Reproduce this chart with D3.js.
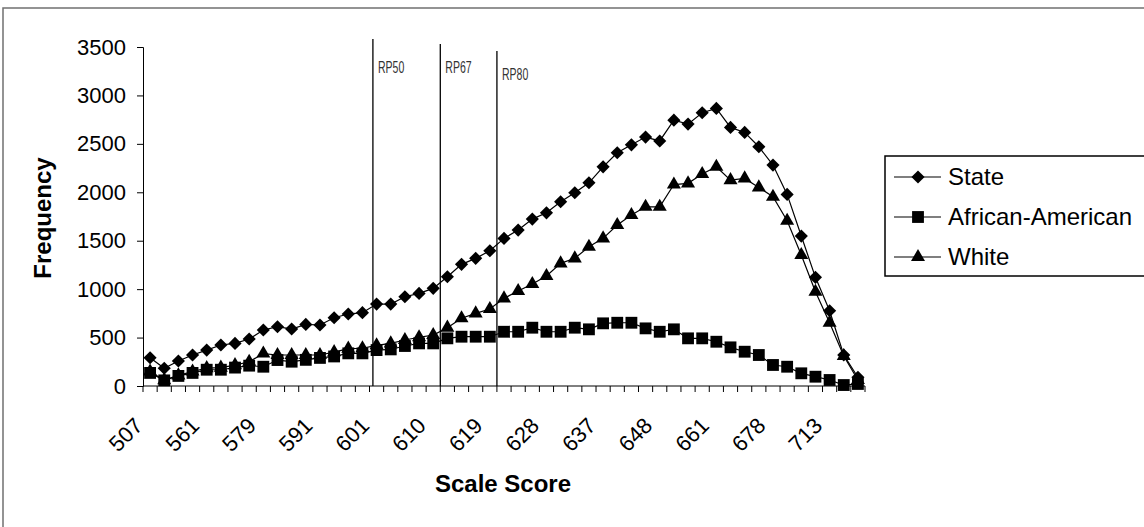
<!DOCTYPE html>
<html>
<head>
<meta charset="utf-8">
<script src="https://cdn.jsdelivr.net/npm/d3@7"></script>
<style>
  body { margin: 0; background: #fff; }
  svg { display: block; font-family: "Liberation Sans", Arial, sans-serif; }
</style>
</head>
<body>
<div id="chart"></div>
<script>
// 51 score categories, only every 4th is labelled on the axis
const tickLabels = ["507", "561", "579", "591", "601", "610", "619", "628", "637", "648", "661", "678", "713"];
const labelEvery = 4;
const nCats = 51;

const state = [292, 183, 258, 320, 371, 423, 440, 485, 578, 612, 588, 636, 630, 705, 743, 757, 846, 846,
  922, 956, 1008, 1128, 1256, 1318, 1396, 1524, 1610, 1723, 1788, 1902, 1995, 2098, 2263, 2408, 2490, 2570,
  2530, 2745, 2704, 2821, 2866, 2670, 2618, 2470, 2281, 1978, 1548, 1122, 777, 320, 90];

const africanAmerican = [135, 58, 104, 135, 168, 168, 190, 210, 199, 268, 251, 270, 290, 305, 337, 337, 371, 378,
  413, 440, 440, 492, 509, 509, 509, 560, 560, 602, 560, 560, 602, 585, 647, 653, 653, 595, 560, 585,
  492, 492, 457, 399, 354, 320, 217, 199, 131, 96, 62, 10, 21];

const white = [150, 60, 110, 150, 185, 190, 215, 250, 335, 320, 320, 320, 320, 350, 385, 390, 420, 440,
  475, 503, 526, 602, 699, 750, 795, 905, 980, 1053, 1135, 1266, 1318, 1438, 1524, 1662, 1765, 1850, 1850,
  2080, 2092, 2188, 2263, 2126, 2143, 2050, 1954, 1706, 1352, 973, 653, 310, 62];

const seriesNames = ["State", "African-American", "White"];
const seriesData = [state, africanAmerican, white];
const seriesSymbols = [d3.symbolDiamond2, d3.symbolSquare, d3.symbolTriangle];

// reference points (drawn lines), position in category units
const refNames = ["RP50", "RP67", "RP80"];
const refPos = [16.24, 21, 25];

const yTicks = [0, 500, 1000, 1500, 2000, 2500, 3000, 3500];

const W = 1144, H = 527;
const plot = { left: 143, right: 865, top: 47, bottom: 386 };

const svg = d3.select("#chart").append("svg")
  .attr("width", W)
  .attr("height", H);

// outer chart frame
svg.append("rect")
  .attr("x", 3).attr("y", 8)
  .attr("width", W + 10).attr("height", H + 10)
  .attr("fill", "none")
  .attr("stroke", "#707070")
  .attr("stroke-width", 1.5);

const idx = d3.range(nCats);
const x = d3.scaleBand().domain(idx).range([plot.left, plot.right]).padding(0);
const xLin = d3.scaleLinear().domain([0, nCats]).range([plot.left, plot.right]);
const y = d3.scaleLinear().domain([0, 3500]).range([plot.bottom, plot.top]);
const cx = i => x(i) + x.bandwidth() / 2;

// y axis
const yAxis = svg.append("g")
  .attr("transform", "translate(" + plot.left + ",0)")
  .call(d3.axisLeft(y).tickValues(yTicks).tickSize(6).tickPadding(11).tickFormat(d3.format("d")));
yAxis.select(".domain").attr("stroke", "#000");
yAxis.selectAll(".tick line").attr("stroke", "#000");
yAxis.selectAll("text")
  .attr("font-size", 22)
  .attr("font-family", "Liberation Sans, Arial, sans-serif")
  .attr("fill", "#000");

// x axis: line + ticks between categories
const xg = svg.append("g");
xg.append("line")
  .attr("x1", plot.left).attr("x2", plot.right)
  .attr("y1", plot.bottom).attr("y2", plot.bottom)
  .attr("stroke", "#000");
xg.selectAll(".xtick")
  .data(d3.range(nCats + 1))
  .join("line")
  .attr("class", "xtick")
  .attr("x1", d => xLin(d)).attr("x2", d => xLin(d))
  .attr("y1", plot.bottom).attr("y2", plot.bottom + 6)
  .attr("stroke", "#000");

xg.selectAll(".xlabel")
  .data(tickLabels)
  .join("text")
  .attr("class", "xlabel")
  .attr("transform", (d, i) => "translate(" + (cx(i * labelEvery) - 6) + ",427) rotate(-45)")
  .attr("text-anchor", "end")
  .attr("font-size", 22)
  .attr("fill", "#000")
  .text(d => d);

// axis titles
svg.append("text")
  .attr("x", 503)
  .attr("y", 492)
  .attr("text-anchor", "middle")
  .attr("font-size", 24)
  .attr("font-weight", "bold")
  .text("Scale Score");

svg.append("text")
  .attr("transform", "translate(51,218) rotate(-90)")
  .attr("text-anchor", "middle")
  .attr("font-size", 24)
  .attr("font-weight", "bold")
  .text("Frequency");

// reference lines
const refTops = [39, 44, 51];
const refLabelY = [73, 73, 80];
refNames.forEach((name, k) => {
  const px = xLin(refPos[k]);
  svg.append("line")
    .attr("x1", px).attr("x2", px)
    .attr("y1", refTops[k]).attr("y2", plot.bottom)
    .attr("stroke", "#000")
    .attr("stroke-width", 1.3);
  svg.append("text")
    .attr("transform", "translate(" + (px + 5) + "," + refLabelY[k] + ") scale(0.62,1)")
    .attr("font-size", 17)
    .attr("fill", "#333")
    .text(name);
});

// series
const line = d3.line().x((d, i) => cx(i)).y(d => y(d));
const markerSize = [110, 140, 85];

seriesData.forEach((data, k) => {
  const g = svg.append("g");
  g.append("path")
    .datum(data)
    .attr("d", line)
    .attr("fill", "none")
    .attr("stroke", "#000")
    .attr("stroke-width", 1.2);
  g.selectAll("path.mk")
    .data(data)
    .join("path")
    .attr("class", "mk")
    .attr("transform", (d, i) => "translate(" + cx(i) + "," + y(d) + ")")
    .attr("d", d3.symbol().type(seriesSymbols[k]).size(markerSize[k]))
    .attr("fill", "#000");
});

// legend
const lg = svg.append("g").attr("transform", "translate(885,156)");
lg.append("rect")
  .attr("width", 280).attr("height", 120)
  .attr("fill", "#fff")
  .attr("stroke", "#000")
  .attr("stroke-width", 1.5);
seriesNames.forEach((name, k) => {
  const ly = 21 + k * 40;
  lg.append("line")
    .attr("x1", 9).attr("x2", 56)
    .attr("y1", ly).attr("y2", ly)
    .attr("stroke", "#000")
    .attr("stroke-width", 1.2);
  lg.append("path")
    .attr("transform", "translate(33," + ly + ")")
    .attr("d", d3.symbol().type(seriesSymbols[k]).size(markerSize[k]))
    .attr("fill", "#000");
  lg.append("text")
    .attr("x", 63).attr("y", ly)
    .attr("dy", "0.35em")
    .attr("font-size", 24)
    .text(name);
});
</script>
</body>
</html>
